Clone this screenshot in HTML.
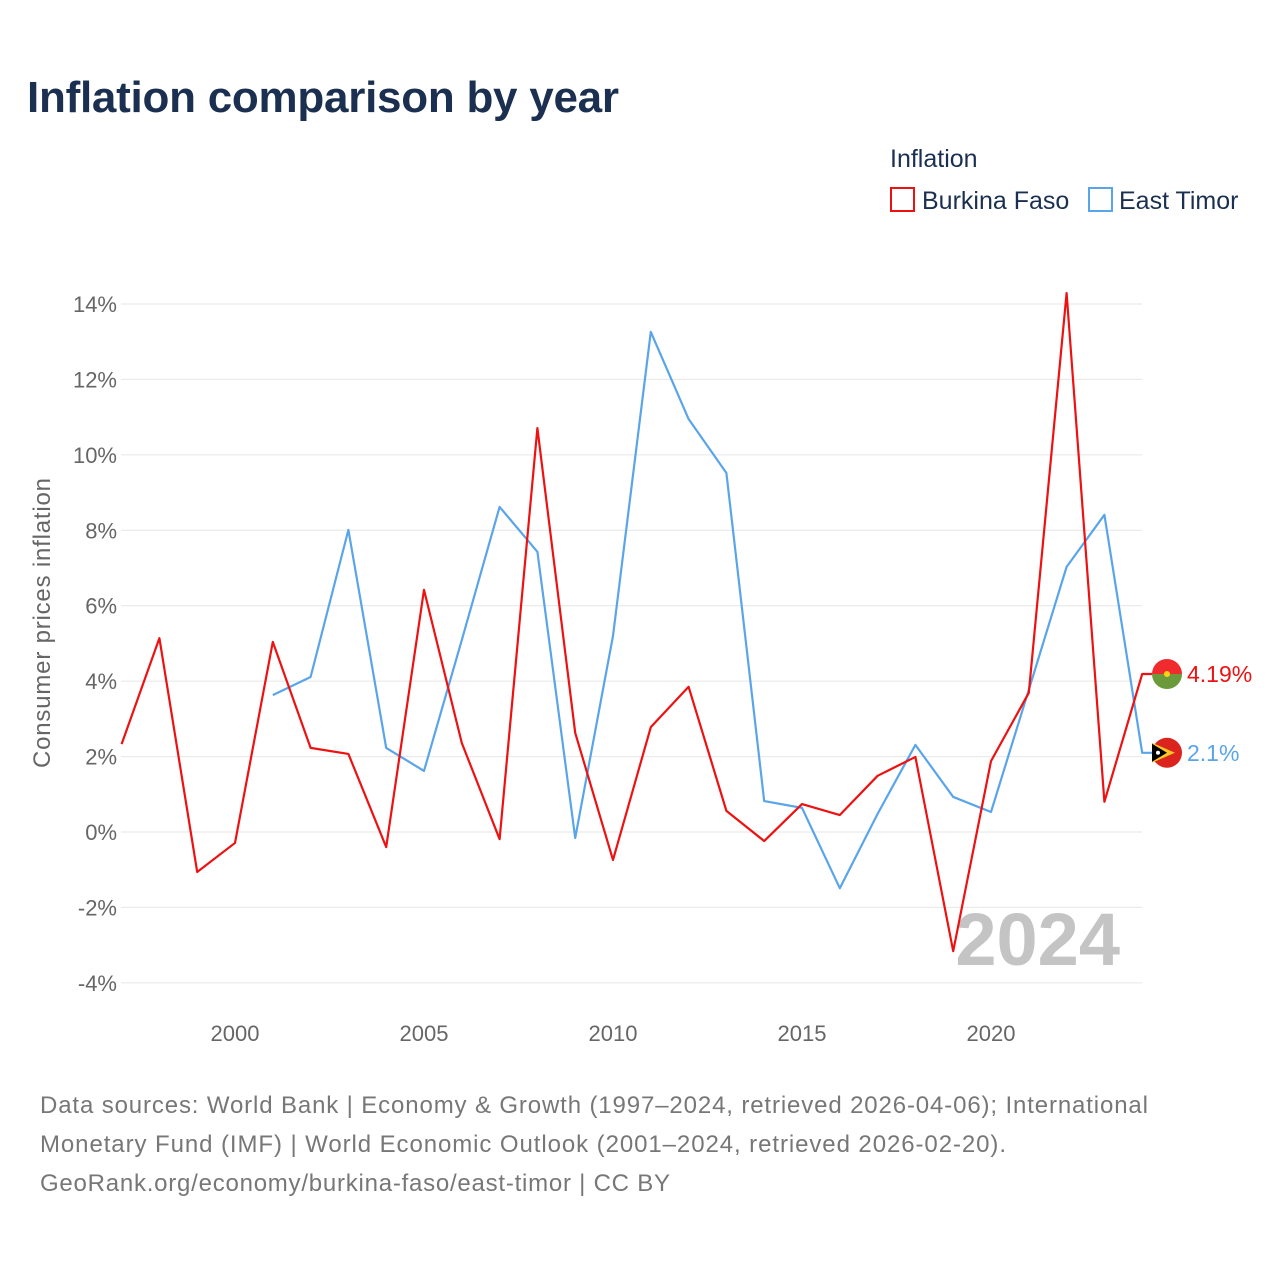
<!DOCTYPE html>
<html><head><meta charset="utf-8">
<style>
body{margin:0;background:#fff;font-family:"Liberation Sans",sans-serif;}
svg text{font-family:"Liberation Sans",sans-serif;}
</style></head>
<body>
<svg id="chart" width="1280" height="1280" viewBox="0 0 1280 1280">
<text x="27" y="112" font-size="44" font-weight="bold" fill="#1b3050" textLength="592">Inflation comparison by year</text>
<text x="890" y="167" font-size="25" fill="#1b3050">Inflation</text>
<g><rect x="891" y="188" width="23" height="23" fill="none" stroke="#ee1111" stroke-width="2"/><text x="922" y="209" font-size="25" fill="#1b3050">Burkina Faso</text></g>
<g><rect x="1089" y="188" width="23" height="23" fill="none" stroke="#5aa5ea" stroke-width="2"/><text x="1119" y="209" font-size="25" fill="#1b3050">East Timor</text></g>
<text transform="translate(50,623) rotate(-90)" text-anchor="middle" font-size="24" fill="#666" textLength="290">Consumer prices inflation</text>
<g id="grid"></g><g id="yticks"></g><g id="xticks"></g>
<text x="1120" y="965" text-anchor="end" font-size="74" font-weight="bold" fill="#c4c4c4">2024</text>
<g id="series"></g>
<g font-size="24" fill="#777">
<text x="40" y="1113" textLength="1108">Data sources: World Bank | Economy &amp; Growth (1997–2024, retrieved 2026-04-06); International</text>
<text x="40" y="1152" textLength="966">Monetary Fund (IMF) | World Economic Outlook (2001–2024, retrieved 2026-02-20).</text>
<text x="40" y="1191" textLength="630">GeoRank.org/economy/burkina-faso/east-timor | CC BY</text>
</g>
</svg>
<script>
const yearsBF=[1997,1998,1999,2000,2001,2002,2003,2004,2005,2006,2007,2008,2009,2010,2011,2012,2013,2014,2015,2016,2017,2018,2019,2020,2021,2022,2023,2024];
const valuesBF=[2.33,5.14,-1.06,-0.29,5.04,2.23,2.07,-0.40,6.42,2.36,-0.19,10.71,2.63,-0.74,2.78,3.85,0.56,-0.24,0.74,0.45,1.49,1.99,-3.16,1.88,3.69,14.29,0.80,4.19];
const yearsTL=[2001,2002,2003,2004,2005,2006,2007,2008,2009,2010,2011,2012,2013,2014,2015,2016,2017,2018,2019,2020,2021,2022,2023,2024];
const valuesTL=[3.63,4.11,8.01,2.23,1.62,5.09,8.62,7.43,-0.16,5.2,13.26,10.95,9.52,0.82,0.64,-1.49,0.48,2.31,0.93,0.53,3.77,7.03,8.41,2.1];
const yTicks=[-4,-2,0,2,4,6,8,10,12,14];
const xTicks=[2000,2005,2010,2015,2020];
const NS="http://www.w3.org/2000/svg";
const x=v=>121.6+(v-1997)*37.8;
const y=v=>832-v*37.714;
function mk(t,a,p){const e=document.createElementNS(NS,t);for(const k in a)e.setAttribute(k,a[k]);p.appendChild(e);return e;}
const grid=document.getElementById('grid'),yt=document.getElementById('yticks'),xt=document.getElementById('xticks'),se=document.getElementById('series');
yTicks.forEach(v=>{
 const l=mk('line',{x1:121,x2:1142,y1:y(v),y2:y(v),stroke:'#e6e6e6','stroke-width':1},grid);
 
 
 const t=mk('text',{x:117,y:y(v)+8,'text-anchor':'end','font-size':22,fill:'#666'},yt);
 t.textContent=v+'%';
 
 
});
xTicks.forEach(v=>{
 const t=mk('text',{x:x(v),y:1041,'text-anchor':'middle','font-size':22,fill:'#666'},xt);
 t.textContent=v;
 
 
});
function series(ys,vs,c,name,label,flag){
 const pts=ys.map((yr,i)=>x(yr)+','+y(vs[i]));
 const lv=vs[vs.length-1];
 pts.push((x(2024)+10)+','+y(lv));
 const p=mk('polyline',{points:pts.join(' '),fill:'none',stroke:c,'stroke-width':2.2,'stroke-linejoin':'round'},se);
 
 
 const cy=y(lv), cx=1167;
 const g=mk('g',{},se);
 
 
 if(flag==='bf'){
  mk('path',{d:`M${cx-15},${cy} A15,15 0 0 1 ${cx+15},${cy} Z`,fill:'#ef2b2d'},g);
  mk('path',{d:`M${cx-15},${cy} A15,15 0 0 0 ${cx+15},${cy} Z`,fill:'#6a9a3a'},g);
  mk('circle',{cx:cx,cy:cy,r:3,fill:'#fcd116'},g);
 } else {
  mk('circle',{cx:cx,cy:cy,r:15,fill:'#dc241f'},g);
  mk('path',{d:`M${cx-15},${cy-10} L${cx+8},${cy} L${cx-15},${cy+10} Z`,fill:'#ffc726'},g);
  mk('path',{d:`M${cx-15},${cy-9} L${cx},${cy} L${cx-15},${cy+9} Z`,fill:'#000'},g);
  mk('circle',{cx:cx-9,cy:cy,r:2,fill:'#fff'},g);
 }
 const t=mk('text',{x:1187,y:cy+8,'font-size':23,fill:c},se);
 t.textContent=label;
 
 
}
series(yearsTL,valuesTL,'#5aa5ea','east-timor',valuesTL[valuesTL.length-1]+'%','tl');
series(yearsBF,valuesBF,'#ee1111','burkina-faso',valuesBF[valuesBF.length-1]+'%','bf');
</script>
</body></html>
